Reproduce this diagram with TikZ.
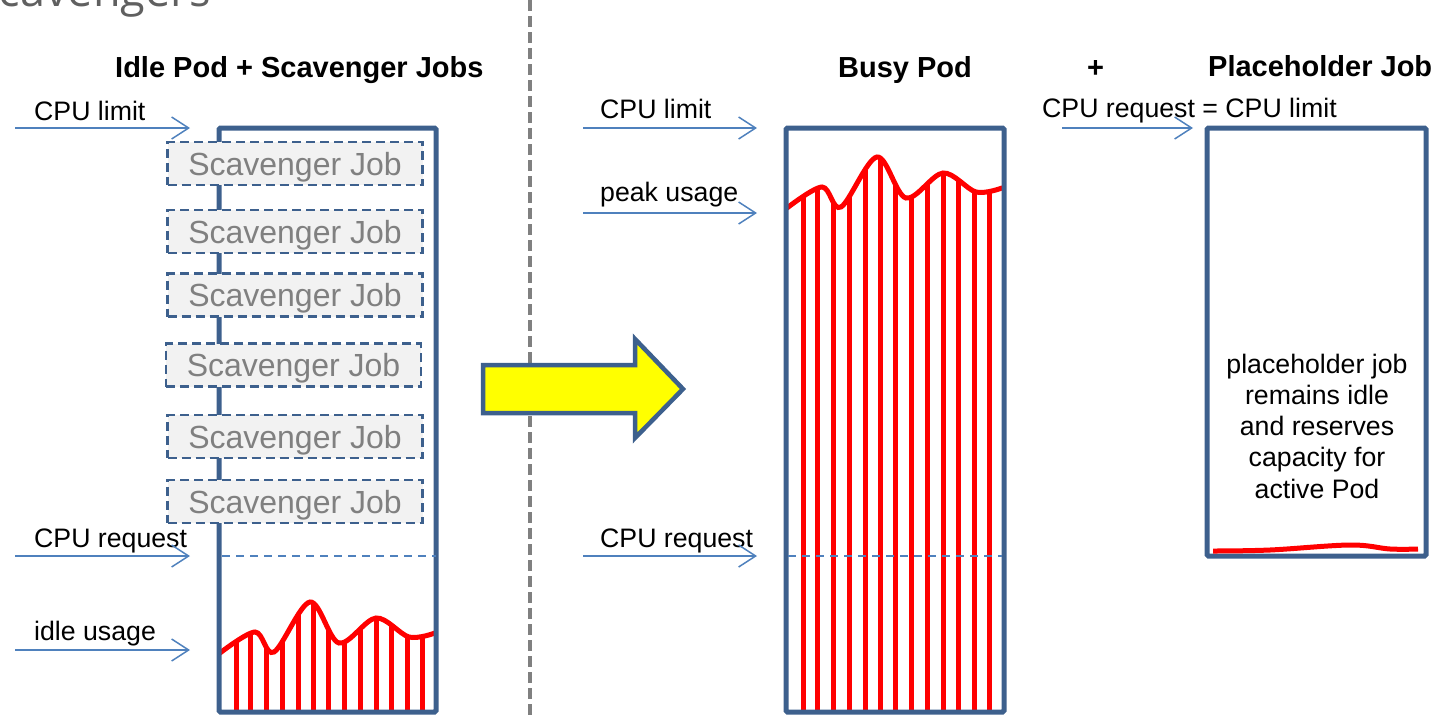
\documentclass[tikz,border=0pt]{standalone}
\usepackage{fontspec}
\setmainfont{Liberation Sans}
\newfontfamily\headfont{Open Sans}
\usetikzlibrary{arrows.meta}

\definecolor{podblue}{RGB}{61,96,141}
\definecolor{markblue}{RGB}{79,129,189}
\definecolor{jobgray}{RGB}{242,242,242}
\definecolor{jobtext}{RGB}{128,128,128}
\definecolor{dividergray}{RGB}{128,128,128}
\definecolor{headgray}{RGB}{96,96,96}
\definecolor{usagered}{RGB}{255,0,0}
\definecolor{shiftyellow}{RGB}{255,255,0}

\tikzset{
  pod/.style={draw=podblue, line width=5pt, rounded corners=1.5pt, inner sep=0pt},
  jobbox/.style={draw=podblue, line width=2.8pt, dash pattern=on 9pt off 5pt,
    fill=jobgray, minimum width=255pt, minimum height=43pt, inner sep=0pt,
    text height=27pt, text depth=4pt,
    text=jobtext, font=\fontsize{32}{38}\selectfont},
  lbl/.style={anchor=base west, inner sep=0pt, font=\fontsize{26.7}{32}\selectfont},
  title/.style={anchor=base west, inner sep=0pt, font=\fontsize{29}{34}\selectfont\bfseries},
  level/.style={draw=markblue, line width=1.5pt,
    -{Straight Barb[length=17pt,width=22pt,line width=1.5pt]}},
  reqline/.style={draw=markblue, line width=1.5pt, dash pattern=on 8pt off 6pt},
  bar/.style={draw=usagered, line width=5pt},
  usage/.style={draw=usagered, line width=5pt, line cap=round},
  divider/.style={draw=dividergray, line width=4pt, dash pattern=on 11pt off 5pt},
}

\begin{document}
\begin{tikzpicture}[x=1pt, y=-1pt]
\useasboundingbox (0,0) rectangle (1452,716);
\clip (0,0) rectangle (1452,716);

% section heading, partly outside the page
\node[anchor=base west, inner sep=0pt, text=headgray,
      font=\headfont\fontsize{45}{54}\selectfont] (section) at (-26,6) {Scavengers};

% dashed divider
\coordinate (divtop) at (530,0);
\coordinate (divbot) at (530,716);
\draw[divider] (divtop) -- (divbot);

% ---------------- idle pod ----------------
\node[title] (idletitle) at (115,77) {Idle Pod + Scavenger Jobs};

\begin{scope}[shift={(219,653)}]
  \begin{scope}
    \clip plot[smooth, tension=0.55] coordinates
      {(1,0) (36,-21) (55,-1) (91,-51) (120,-10) (157,-35) (190,-16) (216,-20)}
      -- (216,60) -- (1,60) -- cycle;
    \foreach \bx in {17,31,47,63,79,94,109,125,141,157,172,188,203}
      \draw[bar] (\bx,-60) -- (\bx,60);
  \end{scope}
  \draw[usage] plot[smooth, tension=0.55] coordinates
    {(1,0) (36,-21) (55,-1) (91,-51) (120,-10) (157,-35) (190,-16) (216,-20)};
\end{scope}

\node[pod, minimum width=217pt, minimum height=584pt] (idle) at (327.5,420) {};

\coordinate (idlereqL) at (222,556);
\coordinate (idlereqR) at (436,556);
\draw[reqline] (idlereqL) -- (idlereqR);

\node[jobbox] (job1) at (295,163.5) {Scavenger Job};
\node[jobbox] (job2) at (295,231.5) {Scavenger Job};
\node[jobbox] (job3) at (295,295) {Scavenger Job};
\node[jobbox] (job4) at (293.5,365) {Scavenger Job};
\node[jobbox] (job5) at (295,436.5) {Scavenger Job};
\node[jobbox] (job6) at (295,501.5) {Scavenger Job};

\node[lbl] (idlelimit) at (34,120) {CPU limit};
\coordinate (idlelimitA) at (15,128);
\coordinate (idlelimitB) at (190,128);
\draw[level] (idlelimitA) -- (idlelimitB);

\node[lbl] (idlereq) at (34,547) {CPU request};
\coordinate (idlereqA) at (15,556);
\coordinate (idlereqB) at (190,556);
\draw[level] (idlereqA) -- (idlereqB);

\node[lbl] (idleuse) at (34,640) {idle usage};
\coordinate (idleuseA) at (15,650);
\coordinate (idleuseB) at (190,650);
\draw[level] (idleuseA) -- (idleuseB);

% ---------------- transition arrow ----------------
\draw[draw=podblue, line width=4.5pt, fill=shiftyellow, line join=miter]
  (483,365) -- (635,365) -- (635,339) -- (683,389) -- (635,438)
  -- (635,413) -- (483,413) -- cycle;

% ---------------- busy pod ----------------
\node[title] (busytitle) at (838,77) {Busy Pod};

\begin{scope}[shift={(786,208)}]
  \begin{scope}
    \clip plot[smooth, tension=0.55] coordinates
      {(1,0) (36,-21) (55,-1) (91,-51) (120,-10) (157,-35) (190,-16) (216,-20)}
      -- (216,504) -- (1,504) -- cycle;
    \foreach \bx in {17,31,47,63,79,94,109,125,141,157,172,188,203}
      \draw[bar] (\bx,-60) -- (\bx,504);
  \end{scope}
  \draw[usage] plot[smooth, tension=0.55] coordinates
    {(1,0) (36,-21) (55,-1) (91,-51) (120,-10) (157,-35) (190,-16) (216,-20)};
\end{scope}

\node[pod, minimum width=218pt, minimum height=584pt] (busy) at (895,420) {};

\coordinate (busyreqL) at (788,556);
\coordinate (busyreqR) at (1002,556);
\draw[reqline] (busyreqL) -- (busyreqR);

\node[lbl] (busylimit) at (600,118) {CPU limit};
\coordinate (busylimitA) at (583,128);
\coordinate (busylimitB) at (757,128);
\draw[level] (busylimitA) -- (busylimitB);

\node[lbl] (busypeak) at (600,201) {peak usage};
\coordinate (busypeakA) at (583,213);
\coordinate (busypeakB) at (757,213);
\draw[level] (busypeakA) -- (busypeakB);

\node[lbl] (busyreq) at (600,547) {CPU request};
\coordinate (busyreqA) at (583,556);
\coordinate (busyreqB) at (757,556);
\draw[level] (busyreqA) -- (busyreqB);

% ---------------- placeholder job ----------------
\node[title] (plus) at (1087,77) {+};
\node[title] (holdtitle) at (1208,76) {Placeholder Job};

\node[pod, minimum width=219pt, minimum height=428pt] (hold) at (1316.5,342) {};
\draw[usagered, line width=5pt] plot[smooth, tension=0.6] coordinates
  {(1213,551) (1270,550) (1350,545) (1390,549) (1418,549)};

\node[align=center, inner sep=0pt, font=\fontsize{26.7}{31.25}\selectfont]
  (holdnote) at (1317,426)
  {placeholder job\\remains idle\\and reserves\\capacity for\\active Pod};

\node[lbl] (holdlimit) at (1042,117) {CPU request = CPU limit};
\coordinate (holdA) at (1062,128);
\coordinate (holdB) at (1193,128);
\draw[level] (holdA) -- (holdB);

\end{tikzpicture}
\end{document}
